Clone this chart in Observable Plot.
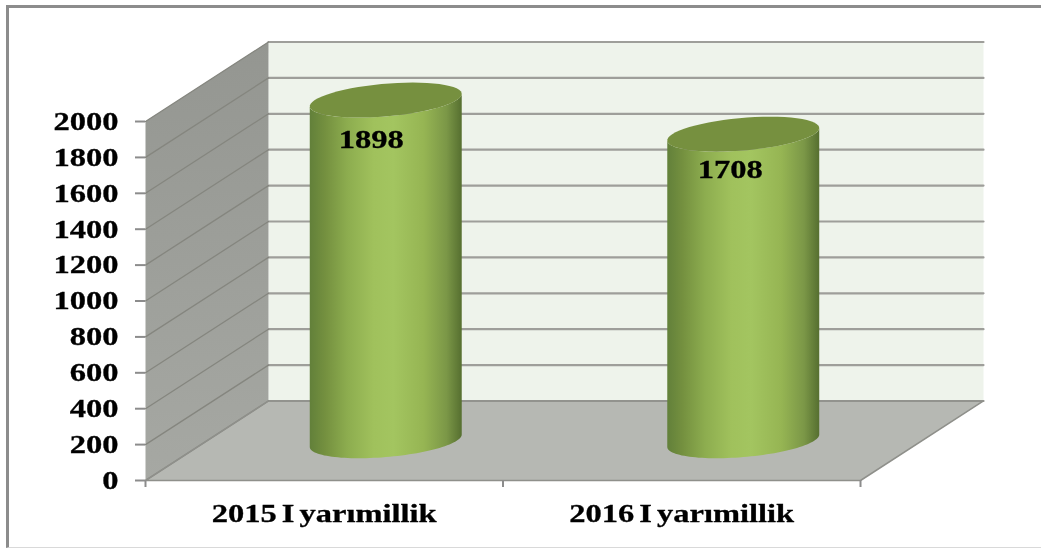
<!DOCTYPE html>
<html>
<head>
<meta charset="utf-8">
<script src="https://cdn.jsdelivr.net/npm/d3@7"></script>
<script src="https://cdn.jsdelivr.net/npm/@observablehq/plot@0.6"></script>
<style>
  html, body { margin: 0; padding: 0; background: #fff; }
  #chart { position: relative; width: 1041px; height: 548px; overflow: hidden; }
  #chart svg { display: block; filter: blur(0.45px); word-spacing: -2.5px; }
  #chart svg text { stroke: #000; stroke-width: 0.3px; }
  #border { position: absolute; left: 6px; top: 5px; right: 0; bottom: 0; box-sizing: border-box;
            border-left: 3px solid #8c8c8c; border-top: 3px solid #8c8c8c;
            border-bottom: 1px solid #d9d9d9; pointer-events: none; }
</style>
</head>
<body>
<div id="chart"><div id="border"></div></div>
<script>
const categories = ["2015 I yarımillik", "2016 I yarımillik"];
const values = [1898, 1708];
const yTicks = [0, 200, 400, 600, 800, 1000, 1200, 1400, 1600, 1800, 2000];

// oblique 3D box: depth z (0 front .. 1 back) shifts a point along both data axes
const depthX = 0.344;   // category units per full depth
const depthY = 443;     // value units per full depth
const radiusX = 0.1986; // cylinder radius, category units
const radiusZ = 0.22;   // cylinder radius, depth units
const X = (c, z) => c + z * depthX;
const Y = (v, z) => v + z * depthY;
const nCat = categories.length;

const corners = (pts) => pts.map(([c, v, z]) => ({x: X(c, z), y: Y(v, z)}));
const backWall = corners([[0, 0, 1], [nCat, 0, 1], [nCat, 2000, 1], [0, 2000, 1]]);
const leftWall = corners([[0, 0, 0], [0, 0, 1], [0, 2000, 1], [0, 2000, 0]]);
const floor = corners([[0, 0, 0], [nCat, 0, 0], [nCat, 0, 1], [0, 0, 1]]);

const backGrid = yTicks.flatMap((t) => [{x: X(0, 1), y: Y(t, 1), t}, {x: X(nCat, 1), y: Y(t, 1), t}]);
const sideGrid = yTicks.flatMap((t) => [{x: X(0, 0), y: Y(t, 0), t}, {x: X(0, 1), y: Y(t, 1), t}]);

const theta0 = Math.atan((radiusZ * depthX) / radiusX);
const ring = (i, v, from, to) => d3.range(0, 61).map((k) => {
  const a = from + (to - from) * k / 60;
  const z = 0.5 + radiusZ * Math.sin(a);
  return {x: X(i + 0.5 + radiusX * Math.cos(a), z), y: Y(v, z), i};
});
const bodies = values.flatMap((v, i) => [
  ...ring(i, 0, theta0 + Math.PI, theta0 + 2 * Math.PI),
  ...ring(i, v, theta0 + 2 * Math.PI, theta0 + Math.PI)
]);
const tops = values.flatMap((v, i) => ring(i, v, 0, 2 * Math.PI));
const valueLabels = values.map((v, i) => ({x: X(i + 0.5, 0.5), y: Y(v, 0.5), text: String(v)}));

function defs() {
  const d = d3.create("svg:defs");
  const grad = (id, horizontal, stops) => {
    const g = d.append("linearGradient").attr("id", id)
      .attr("x1", 0).attr("y1", 0).attr("x2", horizontal ? 1 : 0).attr("y2", horizontal ? 0 : 1);
    stops.forEach(([o, c]) => g.append("stop").attr("offset", o).attr("stop-color", c));
  };
  grad("cyl", true, [[0, "#62803a"], [0.1, "#74903f"], [0.25, "#8dad4f"], [0.42, "#a0c15c"], [0.55, "#a3c560"],
                     [0.75, "#96b553"], [0.9, "#7b9747"], [1, "#566f30"]]);
  grad("wall", false, [[0, "#949691"], [1, "#a6a8a3"]]);
  return d.node();
}

const textStyle = {fontFamily: "'Liberation Serif', serif", fontWeight: 700, fontSize: 26};
const tickStroke = "#8c8c8c";

const plot = Plot.plot({
  width: 1041, height: 548,
  marginLeft: 145, marginRight: 58, marginTop: 41.5, marginBottom: 68,
  style: {background: "transparent", overflow: "visible"},
  x: {type: "linear", domain: [0, nCat + depthX]},
  y: {type: "linear", domain: [0, 2000 + depthY]},
  marks: [
    defs,
    Plot.line(backWall, {x: "x", y: "y", fill: "#eef3eb", stroke: null}),
    Plot.line(leftWall, {x: "x", y: "y", fill: "url(#wall)", stroke: null}),
    Plot.line(floor, {x: "x", y: "y", fill: "#b6b8b3", stroke: null}),
    Plot.line(backGrid, {x: "x", y: "y", z: "t", stroke: "#9e9e9a", strokeWidth: 2.2}),
    Plot.line(sideGrid, {x: "x", y: "y", z: "t", stroke: "#85867f", strokeWidth: 1.3}),
    Plot.line([...floor, floor[0]], {x: "x", y: "y", stroke: "#8f908b", strokeWidth: 1.5}),
    Plot.line(bodies, {x: "x", y: "y", z: "i", fill: "url(#cyl)", stroke: null}),
    Plot.line(tops, {x: "x", y: "y", z: "i", fill: "#76903f", stroke: null}),
    Plot.axisY({ticks: yTicks, tickFormat: (d) => String(d), tickSize: 10, tickPadding: 17, label: null,
                stroke: tickStroke, strokeWidth: 2, fill: "#000", ...textStyle}),
    Plot.axisX({ticks: [0, 1, 2], tickFormat: () => "", tickSize: 7, label: null, stroke: tickStroke, strokeWidth: 2}),
    Plot.axisX({ticks: [0.5, 1.5], tickFormat: (d) => categories[Math.floor(d)], tickSize: 0, tickPadding: 23,
                label: null, fill: "#000", ...textStyle}),
    Plot.text(valueLabels.slice(0, 1), {x: "x", y: "y", text: "text", dx: -14.5, dy: 40, fill: "#000", ...textStyle}),
    Plot.text(valueLabels.slice(1), {x: "x", y: "y", text: "text", dx: -13, dy: 36, fill: "#000", ...textStyle})
  ]
});
document.getElementById("chart").prepend(plot);
// the reference's type is horizontally stretched
plot.querySelectorAll("text").forEach((t) => {
  const len = t.getComputedTextLength();
  if (len > 0) {
    t.setAttribute("textLength", len * 1.25);
    t.setAttribute("lengthAdjust", "spacingAndGlyphs");
  }
});
</script>
</body>
</html>
